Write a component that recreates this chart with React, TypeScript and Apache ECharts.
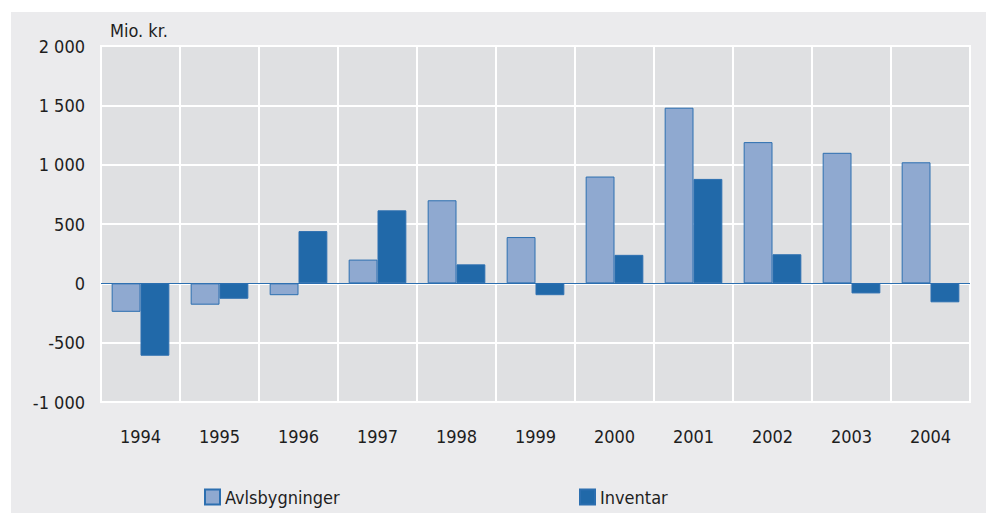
import React, { useEffect, useRef } from "react";
import * as echarts from "echarts";

const years = ["1994", "1995", "1996", "1997", "1998", "1999", "2000", "2001", "2002", "2003", "2004"];
const avlsbygninger = [-240, -180, -100, 200, 700, 390, 900, 1480, 1190, 1100, 1020];
const inventar = [-610, -130, 440, 615, 160, -100, 240, 880, 245, -85, -160];
const seriesNames = ["Avlsbygninger", "Inventar"];
const unitLabel = "Mio. kr.";

const FONT = "'DejaVu Sans Condensed', 'Noto Sans', sans-serif";
const FS = 18;
const LIGHT = "#8fa9d0";
const DARK = "#2169a9";
const EDGE = "#2c6fb0";
const TEXT = "#1e1e1e";

function fmt(v: number): string {
  const s = Math.abs(v).toString();
  const withSpace = s.replace(/\B(?=(\d{3})+(?!\d))/g, " ");
  return (v < 0 ? "-" : "") + withSpace;
}

export default function App() {
  const ref = useRef<HTMLDivElement>(null);
  useEffect(() => {
    if (!ref.current) return;
    const chart = echarts.init(ref.current, undefined, { renderer: "svg" });
    chart.setOption({
      animation: false,
      backgroundColor: "#ffffff",
      textStyle: { fontFamily: FONT },
      graphic: [
        {
          type: "rect",
          z: -10,
          silent: true,
          shape: { x: 11, y: 12, width: 975, height: 501 },
          style: { fill: "#ebebed" },
        },
        {
          type: "text",
          left: 110,
          top: 21,
          silent: true,
          style: { text: unitLabel, fontSize: FS, fill: TEXT, fontFamily: FONT },
        },
      ],
      legend: [
        {
          data: [seriesNames[0]],
          left: 204,
          top: 488,
          padding: 0,
          icon: "rect",
          itemWidth: 15,
          itemHeight: 15,
          itemGap: 8,
          textStyle: { fontSize: FS, color: TEXT, fontFamily: FONT },
        },
        {
          data: [seriesNames[1]],
          left: 579,
          top: 488,
          padding: 0,
          icon: "rect",
          itemWidth: 15,
          itemHeight: 15,
          itemGap: 8,
          textStyle: { fontSize: FS, color: TEXT, fontFamily: FONT },
        },
      ],
      grid: {
        left: 101,
        right: 16,
        top: 46,
        bottom: 111,
        show: true,
        backgroundColor: "#dfe0e2",
        borderColor: "#ffffff",
        borderWidth: 2,
      },
      xAxis: {
        type: "category",
        data: years,
        axisLine: { show: false, onZero: false },
        axisTick: { show: false },
        axisLabel: { fontSize: FS, color: TEXT, margin: 25, fontFamily: FONT },
        splitLine: { show: true, interval: 0, lineStyle: { color: "#ffffff", width: 2 } },
      },
      yAxis: {
        type: "value",
        min: -1000,
        max: 2000,
        interval: 500,
        axisLine: { show: false },
        axisTick: { show: false },
        axisLabel: {
          fontSize: FS,
          color: TEXT,
          margin: 16,
          fontFamily: FONT,
          formatter: (v: number) => fmt(v),
        },
        splitLine: { show: true, lineStyle: { color: "#ffffff", width: 2 } },
      },
      series: [
        {
          name: seriesNames[0],
          type: "bar",
          data: avlsbygninger,
          barGap: "0%",
          barCategoryGap: "27%",
          itemStyle: { color: LIGHT, borderColor: EDGE, borderWidth: 1 },
          markLine: {
            silent: true,
            symbol: "none",
            label: { show: false },
            lineStyle: { color: EDGE, width: 1, type: "solid" },
            data: [{ yAxis: 0 }],
            z: 1,
          },
        },
        {
          name: seriesNames[1],
          type: "bar",
          data: inventar,
          itemStyle: { color: DARK, borderColor: EDGE, borderWidth: 1 },
        },
      ],
    });
    return () => chart.dispose();
  }, []);
  return <div ref={ref} style={{ width: 986, height: 513, position: "absolute", left: 0, top: 0 }} />;
}
